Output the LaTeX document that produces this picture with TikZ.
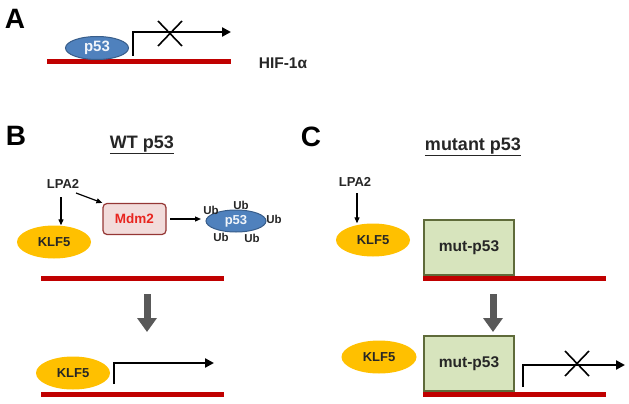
\documentclass[tikz,border=0pt]{standalone}
\usepackage{fontspec}
\setmainfont{Liberation Sans}
\usetikzlibrary{arrows.meta,shapes.geometric}
\definecolor{dnared}{HTML}{C00000}
\definecolor{pblue}{HTML}{4F81BD}
\definecolor{pbluedark}{HTML}{385D8A}
\definecolor{klfgold}{HTML}{FFC000}
\definecolor{mdmfill}{HTML}{F2DCDB}
\definecolor{mdmedge}{HTML}{953735}
\definecolor{mdmtext}{HTML}{E8251F}
\definecolor{mutfill}{HTML}{D7E4BD}
\definecolor{mutedge}{HTML}{5F6B3A}
\definecolor{bigarrow}{HTML}{595959}
\newcommand{\fs}[1]{\fontsize{#1}{#1}\selectfont\bfseries}
\tikzset{
  dna/.style={draw=dnared, line width=5pt},
  prom/.style={line width=2.3pt, -{Triangle[width=9pt,length=9pt]}},
  crossline/.style={line width=1.6pt},
  thinarr/.style={line width=1.2pt, -{Triangle[width=5pt,length=6pt]}},
  downarr/.style={draw=bigarrow, line width=7pt, -{Triangle[width=19pt,length=14pt]}},
  klf/.style={ellipse, fill=klfgold, minimum width=74pt, minimum height=33pt, inner sep=0pt, font=\fs{13}, text=black!85},
  pblob/.style={ellipse, fill=pblue, draw=pbluedark, line width=1pt, inner sep=0pt, text=white!92!pblue},
  mutbox/.style={rectangle, fill=mutfill, draw=mutedge, line width=1.2pt, minimum width=90pt, minimum height=55pt, font=\fs{15.5}, text=black!85},
  panel/.style={font=\fs{28}},
  title/.style={font=\fs{18}, text=black!85},
  ub/.style={font=\fs{11.5}, text=black!85, inner sep=0pt},
  lbl/.style={font=\fs{13}, text=black!85},
}
\begin{document}
\begin{tikzpicture}[x=1pt,y=-1pt]
\useasboundingbox (0,0) rectangle (629,404);
% ---------- Panel A ----------
\node[panel] (A) at (15,19) {A};
\draw[dna] (47,62) -- (231,62);
\node[pblob, minimum width=63pt, minimum height=23pt, font=\fs{15}] (pA) at (97,48) {p53};
\coordinate (pAs) at (133,56);
\coordinate (pAe) at (231,32);
\draw[prom] (pAs) |- (pAe);
\coordinate (xA1) at (158,21); \coordinate (xA2) at (182,46);
\coordinate (xA3) at (158,46); \coordinate (xA4) at (182,21);
\draw[crossline] (xA1) -- (xA2) (xA3) -- (xA4);
\node[font=\fs{15.5}, text=black!85] (hif) at (283,63) {HIF-1α};
% ---------- Panel B ----------
\node[panel] (B) at (16,136) {B};
\node[title] (wt) at (142,145) {\underline{WT p53}};
\node[lbl] (lpaB) at (63,184) {LPA2};
\node[klf] (klfB1) at (54,242) {KLF5};
\node[rectangle, rounded corners=4pt, fill=mdmfill, draw=mdmedge, line width=1.2pt, minimum width=63pt, minimum height=31pt, font=\fs{13.5}, text=mdmtext] (mdm) at (134.5,219) {Mdm2};
\node[pblob, minimum width=60pt, minimum height=22pt, font=\fs{13}] (pB) at (236,221) {p53};
\coordinate (lB) at (61,197);
\draw[thinarr] (lB) -- (lB |- klfB1.north);
\coordinate (lB2) at (76,193);
\draw[thinarr] (lB2) -- (mdm.north west);
\coordinate (mdmE) at (170,219);
\coordinate (pBW) at (201,219);
\draw[thinarr] (mdmE) -- (pBW);
\node[ub] (ub1) at (211,210) {Ub};
\node[ub] (ub2) at (241,205) {Ub};
\node[ub] (ub3) at (274,219) {Ub};
\node[ub] (ub4) at (221,237) {Ub};
\node[ub] (ub5) at (252,238) {Ub};
\draw[dna] (41,278) -- (224,278);
\coordinate (gB1) at (147,294); \coordinate (gB2) at (147,332);
\draw[downarr] (gB1) -- (gB2);
\node[klf] (klfB2) at (73,373) {KLF5};
\coordinate (pBs) at (114,384);
\coordinate (pBe) at (214,363);
\draw[prom] (pBs) |- (pBe);
\draw[dna] (41,394) -- (224,394);
% ---------- Panel C ----------
\node[panel] (C) at (311,137) {C};
\node[title] (mut) at (473,147) {\underline{mutant p53}};
\node[lbl] (lpaC) at (355,182) {LPA2};
\node[klf] (klfC1) at (373,240) {KLF5};
\coordinate (lC) at (357,193);
\draw[thinarr] (lC) -- (lC |- klfC1.north);
\node[mutbox] (mC1) at (469,247.5) {mut-p53};
\draw[dna] (423,278) -- (606,278);
\coordinate (gC1) at (493,294); \coordinate (gC2) at (493,332);
\draw[downarr] (gC1) -- (gC2);
\node[klf, minimum width=75pt] (klfC2) at (379,357) {KLF5};
\node[mutbox] (mC2) at (469,363.5) {mut-p53};
\coordinate (pCs) at (523,387);
\coordinate (pCe) at (625,365);
\draw[prom] (pCs) |- (pCe);
\coordinate (xC1) at (565,351); \coordinate (xC2) at (589,376);
\coordinate (xC3) at (565,376); \coordinate (xC4) at (589,351);
\draw[crossline] (xC1) -- (xC2) (xC3) -- (xC4);
\draw[dna] (423,394) -- (606,394);
\end{tikzpicture}
\end{document}
